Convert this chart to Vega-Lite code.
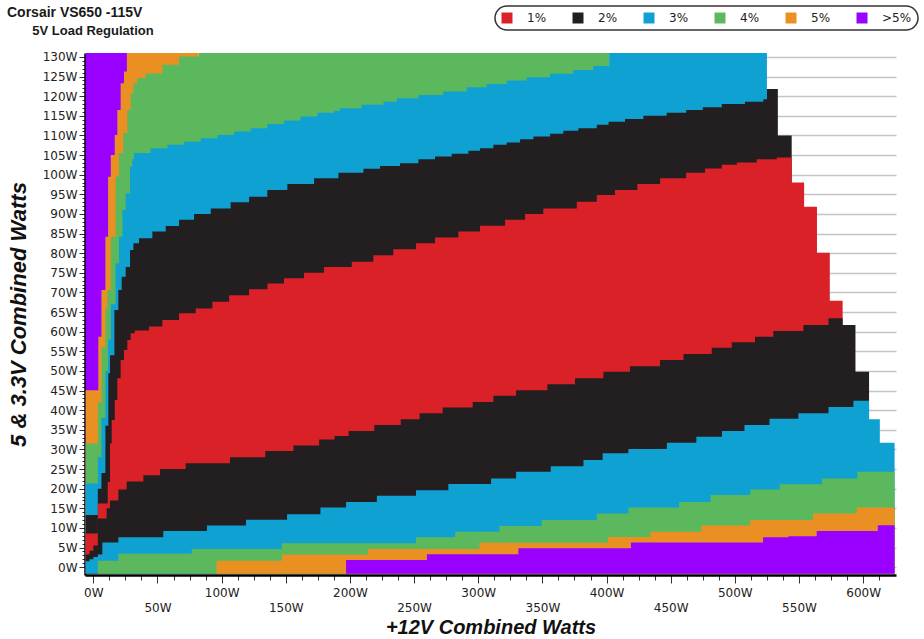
{
  "$schema": "https://vega.github.io/schema/vega-lite/v6.json",
  "autosize": "none",
  "width": 811,
  "height": 522,
  "padding": {"left": 85, "top": 53, "right": 28, "bottom": 64},
  "background": "white",
  "config": {
    "view": {"stroke": null},
    "axis": {
      "labelFont": "DejaVu Sans",
      "labelFontSize": 12,
      "labelColor": "#222222",
      "titleFont": "Liberation Sans",
      "titleFontWeight": "bold",
      "titleFontStyle": "italic",
      "titleColor": "#111111",
      "domainColor": "#000000",
      "domainWidth": 2.5,
      "tickColor": "#333333",
      "labelOverlap": false,
      "labelFlush": false
    },
    "legend": {"strokeWidth": 1.5}
  },
  "title": {
    "text": "Corsair VS650 -115V",
    "subtitle": "\u200b\u00a0\u00a0\u00a0\u00a0\u00a0\u00a0\u00a05V Load Regulation",
    "anchor": "start",
    "frame": "group",
    "dx": -78,
    "offset": -33,
    "font": "Liberation Sans",
    "fontSize": 14,
    "fontWeight": "bold",
    "color": "#1a1a1a",
    "subtitleFont": "Liberation Sans",
    "subtitleFontSize": 13,
    "subtitleFontWeight": "bold",
    "subtitleColor": "#1a1a1a",
    "subtitlePadding": 5
  },
  "data": {
    "values": [
      {"b": "p11", "w": -6, "v": 131}, {"b": "p11", "w": 26.2, "v": 131},

      {"b": "p10", "w": -6, "v": 45.1}, {"b": "p10", "w": 3.9, "v": 58.7}, {"b": "p10", "w": 6.3, "v": 70.6},
      {"b": "p10", "w": 9.4, "v": 84.2}, {"b": "p10", "w": 11.5, "v": 99.5}, {"b": "p10", "w": 13.6, "v": 105},
      {"b": "p10", "w": 16.7, "v": 110.1}, {"b": "p10", "w": 18.7, "v": 116.5}, {"b": "p10", "w": 21.3, "v": 123.3},
      {"b": "p10", "w": 23.9, "v": 126.3}, {"b": "p10", "w": 26.2, "v": 131}, {"b": "p10", "w": 82, "v": 131},

      {"b": "p9", "w": -6, "v": 31.5}, {"b": "p9", "w": 3.5, "v": 42}, {"b": "p9", "w": 6.3, "v": 56},
      {"b": "p9", "w": 9.4, "v": 66}, {"b": "p9", "w": 10.9, "v": 70.6}, {"b": "p9", "w": 13.6, "v": 84.2},
      {"b": "p9", "w": 17.4, "v": 99.5}, {"b": "p9", "w": 20, "v": 105.5}, {"b": "p9", "w": 23.4, "v": 110.6},
      {"b": "p9", "w": 26.5, "v": 116.5}, {"b": "p9", "w": 29.1, "v": 120.7}, {"b": "p9", "w": 31.2, "v": 123.3},
      {"b": "p9", "w": 34.3, "v": 124.6}, {"b": "p9", "w": 40.8, "v": 125.8}, {"b": "p9", "w": 53.8, "v": 128},
      {"b": "p9", "w": 66.8, "v": 130.1}, {"b": "p9", "w": 82, "v": 131}, {"b": "p9", "w": 402, "v": 131},

      {"b": "p8", "w": -6, "v": 21.3}, {"b": "p8", "w": 3.5, "v": 28}, {"b": "p8", "w": 6.3, "v": 38},
      {"b": "p8", "w": 9.4, "v": 50}, {"b": "p8", "w": 11.5, "v": 58}, {"b": "p8", "w": 13.6, "v": 67},
      {"b": "p8", "w": 17.4, "v": 77.4}, {"b": "p8", "w": 20, "v": 84.2}, {"b": "p8", "w": 22.7, "v": 91},
      {"b": "p8", "w": 25.2, "v": 95.2}, {"b": "p8", "w": 28.6, "v": 102}, {"b": "p8", "w": 30.4, "v": 104},
      {"b": "p8", "w": 31.7, "v": 105.5}, {"b": "p8", "w": 44.7, "v": 106.7}, {"b": "p8", "w": 57.7, "v": 107.6},
      {"b": "p8", "w": 70.7, "v": 108.4}, {"b": "p8", "w": 83.7, "v": 109.3}, {"b": "p8", "w": 96.7, "v": 110.1},
      {"b": "p8", "w": 109.7, "v": 111}, {"b": "p8", "w": 122.7, "v": 111.8}, {"b": "p8", "w": 135.6, "v": 112.9},
      {"b": "p8", "w": 148.6, "v": 113.8}, {"b": "p8", "w": 161.6, "v": 114.8}, {"b": "p8", "w": 174.6, "v": 115.8},
      {"b": "p8", "w": 187.6, "v": 116.3}, {"b": "p8", "w": 192.3, "v": 116.9}, {"b": "p8", "w": 209.2, "v": 117.8},
      {"b": "p8", "w": 226.2, "v": 118.6}, {"b": "p8", "w": 236.5, "v": 119.5}, {"b": "p8", "w": 253.3, "v": 120.3},
      {"b": "p8", "w": 272.8, "v": 121.2}, {"b": "p8", "w": 291, "v": 122.3}, {"b": "p8", "w": 306.6, "v": 123.1},
      {"b": "p8", "w": 322.2, "v": 124}, {"b": "p8", "w": 337.8, "v": 124.8}, {"b": "p8", "w": 356, "v": 125.7},
      {"b": "p8", "w": 374.1, "v": 126.7}, {"b": "p8", "w": 389.7, "v": 127.7}, {"b": "p8", "w": 402, "v": 131},
      {"b": "p8", "w": 525, "v": 131},

      {"b": "p7", "w": -6, "v": 13.3}, {"b": "p7", "w": 3.5, "v": 20}, {"b": "p7", "w": 6.3, "v": 24},
      {"b": "p7", "w": 9.4, "v": 36}, {"b": "p7", "w": 11.7, "v": 49.4}, {"b": "p7", "w": 13, "v": 54},
      {"b": "p7", "w": 16.4, "v": 65.5}, {"b": "p7", "w": 19.5, "v": 70.6}, {"b": "p7", "w": 22.1, "v": 74},
      {"b": "p7", "w": 25.2, "v": 76.5}, {"b": "p7", "w": 28.6, "v": 80.8}, {"b": "p7", "w": 31.2, "v": 82.5},
      {"b": "p7", "w": 35.6, "v": 83.8}, {"b": "p7", "w": 46, "v": 85.5}, {"b": "p7", "w": 56.4, "v": 86.9},
      {"b": "p7", "w": 66.8, "v": 88.5}, {"b": "p7", "w": 78.5, "v": 90}, {"b": "p7", "w": 91.5, "v": 91.4},
      {"b": "p7", "w": 107, "v": 93}, {"b": "p7", "w": 121.4, "v": 94.4}, {"b": "p7", "w": 135.6, "v": 96.1},
      {"b": "p7", "w": 151.2, "v": 97.6}, {"b": "p7", "w": 172, "v": 99.1}, {"b": "p7", "w": 191, "v": 100.5},
      {"b": "p7", "w": 210.5, "v": 101.5}, {"b": "p7", "w": 223.5, "v": 102.2}, {"b": "p7", "w": 239, "v": 102.9},
      {"b": "p7", "w": 253.3, "v": 103.9}, {"b": "p7", "w": 266.3, "v": 104.6}, {"b": "p7", "w": 279.3, "v": 105.3},
      {"b": "p7", "w": 292.3, "v": 106.1}, {"b": "p7", "w": 301.4, "v": 106.7}, {"b": "p7", "w": 311.8, "v": 107.6},
      {"b": "p7", "w": 322.2, "v": 108.2}, {"b": "p7", "w": 332.6, "v": 109}, {"b": "p7", "w": 343, "v": 109.7},
      {"b": "p7", "w": 356, "v": 110.4}, {"b": "p7", "w": 366.3, "v": 111.2}, {"b": "p7", "w": 378, "v": 111.8},
      {"b": "p7", "w": 392.4, "v": 112.7}, {"b": "p7", "w": 401.6, "v": 113.5}, {"b": "p7", "w": 414.4, "v": 114.2},
      {"b": "p7", "w": 428.7, "v": 115}, {"b": "p7", "w": 446.9, "v": 115.8}, {"b": "p7", "w": 462, "v": 116.5},
      {"b": "p7", "w": 475, "v": 117.2}, {"b": "p7", "w": 489.8, "v": 118}, {"b": "p7", "w": 507.9, "v": 118.6},
      {"b": "p7", "w": 522.2, "v": 119.2}, {"b": "p7", "w": 525, "v": 121.8}, {"b": "p7", "w": 533.5, "v": 110},
      {"b": "p7", "w": 544.3, "v": 110},

      {"b": "p6", "w": -6, "v": 8.6}, {"b": "p6", "w": 3.5, "v": 16.2}, {"b": "p6", "w": 11.2, "v": 21.7},
      {"b": "p6", "w": 13, "v": 31.5}, {"b": "p6", "w": 14.3, "v": 37.5}, {"b": "p6", "w": 16.7, "v": 42.6},
      {"b": "p6", "w": 18.7, "v": 48.1}, {"b": "p6", "w": 21.3, "v": 52.8}, {"b": "p6", "w": 23.9, "v": 55.3},
      {"b": "p6", "w": 26.5, "v": 57.9}, {"b": "p6", "w": 29.1, "v": 59.6}, {"b": "p6", "w": 32.3, "v": 60.3},
      {"b": "p6", "w": 43.4, "v": 61.3}, {"b": "p6", "w": 53.8, "v": 63}, {"b": "p6", "w": 66.8, "v": 64.7},
      {"b": "p6", "w": 79.8, "v": 65.9}, {"b": "p6", "w": 92.8, "v": 67.6}, {"b": "p6", "w": 105.8, "v": 69.3},
      {"b": "p6", "w": 121.4, "v": 70.8}, {"b": "p6", "w": 135.7, "v": 72.3}, {"b": "p6", "w": 148.6, "v": 73.6},
      {"b": "p6", "w": 164.2, "v": 75}, {"b": "p6", "w": 179.8, "v": 76.5}, {"b": "p6", "w": 201.4, "v": 77.8},
      {"b": "p6", "w": 218.3, "v": 79.5}, {"b": "p6", "w": 233.8, "v": 81}, {"b": "p6", "w": 251.5, "v": 82.5},
      {"b": "p6", "w": 266.3, "v": 84}, {"b": "p6", "w": 284.5, "v": 85.5}, {"b": "p6", "w": 301.4, "v": 87},
      {"b": "p6", "w": 320.9, "v": 88.5}, {"b": "p6", "w": 336.5, "v": 90}, {"b": "p6", "w": 350.7, "v": 91.4},
      {"b": "p6", "w": 376.8, "v": 93.1}, {"b": "p6", "w": 392.4, "v": 94.8}, {"b": "p6", "w": 406.6, "v": 96.1},
      {"b": "p6", "w": 424, "v": 97.6}, {"b": "p6", "w": 441.7, "v": 99.1}, {"b": "p6", "w": 462, "v": 100.5},
      {"b": "p6", "w": 476.8, "v": 101.6}, {"b": "p6", "w": 489.8, "v": 102.5}, {"b": "p6", "w": 501.5, "v": 103.1},
      {"b": "p6", "w": 517, "v": 103.9}, {"b": "p6", "w": 532.7, "v": 104.4}, {"b": "p6", "w": 544.3, "v": 98},
      {"b": "p6", "w": 554, "v": 91.8}, {"b": "p6", "w": 564, "v": 80.1}, {"b": "p6", "w": 574, "v": 67.9},
      {"b": "p6", "w": 584, "v": 67.9},

      {"b": "p5", "w": -6, "v": 3.2}, {"b": "p5", "w": -3, "v": 4.2}, {"b": "p5", "w": 0, "v": 5.5},
      {"b": "p5", "w": 3.5, "v": 12.4}, {"b": "p5", "w": 10.4, "v": 15}, {"b": "p5", "w": 13, "v": 17},
      {"b": "p5", "w": 19.5, "v": 19.8}, {"b": "p5", "w": 26, "v": 21.8}, {"b": "p5", "w": 39, "v": 23.4},
      {"b": "p5", "w": 52, "v": 25}, {"b": "p5", "w": 72, "v": 26.5}, {"b": "p5", "w": 106.5, "v": 28},
      {"b": "p5", "w": 134, "v": 29.6}, {"b": "p5", "w": 156, "v": 31}, {"b": "p5", "w": 176, "v": 32.5},
      {"b": "p5", "w": 188, "v": 33.4}, {"b": "p5", "w": 199, "v": 34.7}, {"b": "p5", "w": 219, "v": 36.2},
      {"b": "p5", "w": 239.6, "v": 37.7}, {"b": "p5", "w": 254.3, "v": 39.2}, {"b": "p5", "w": 272.3, "v": 40.7},
      {"b": "p5", "w": 295.7, "v": 42.1}, {"b": "p5", "w": 311.8, "v": 43.7}, {"b": "p5", "w": 329.5, "v": 45.1},
      {"b": "p5", "w": 353.9, "v": 46.6}, {"b": "p5", "w": 375.4, "v": 48.1}, {"b": "p5", "w": 397.5, "v": 49.8},
      {"b": "p5", "w": 418.3, "v": 51.2}, {"b": "p5", "w": 441.7, "v": 52.8}, {"b": "p5", "w": 460, "v": 54.3},
      {"b": "p5", "w": 482, "v": 55.9}, {"b": "p5", "w": 497.6, "v": 57.3}, {"b": "p5", "w": 515.7, "v": 58.7},
      {"b": "p5", "w": 530, "v": 60.2}, {"b": "p5", "w": 553.4, "v": 61.7}, {"b": "p5", "w": 573, "v": 63.4},
      {"b": "p5", "w": 584, "v": 61.7}, {"b": "p5", "w": 594, "v": 49.8}, {"b": "p5", "w": 604.6, "v": 49.8},

      {"b": "p4", "w": -6, "v": 1.5}, {"b": "p4", "w": -3, "v": 2}, {"b": "p4", "w": 0, "v": 2.6},
      {"b": "p4", "w": 3.5, "v": 3.2}, {"b": "p4", "w": 7, "v": 6.3}, {"b": "p4", "w": 19.5, "v": 7.6},
      {"b": "p4", "w": 54.5, "v": 9.2}, {"b": "p4", "w": 88.5, "v": 10.6}, {"b": "p4", "w": 119, "v": 12.1},
      {"b": "p4", "w": 151, "v": 13.5}, {"b": "p4", "w": 177, "v": 15.2}, {"b": "p4", "w": 197, "v": 16.6},
      {"b": "p4", "w": 221, "v": 18.2}, {"b": "p4", "w": 251.5, "v": 19.6}, {"b": "p4", "w": 276.7, "v": 21.2},
      {"b": "p4", "w": 310, "v": 22.6}, {"b": "p4", "w": 329.5, "v": 24.3}, {"b": "p4", "w": 356.5, "v": 25.7},
      {"b": "p4", "w": 382, "v": 27.3}, {"b": "p4", "w": 397, "v": 29}, {"b": "p4", "w": 417, "v": 30.1},
      {"b": "p4", "w": 447, "v": 31.7}, {"b": "p4", "w": 470, "v": 33.2}, {"b": "p4", "w": 490, "v": 34.7},
      {"b": "p4", "w": 507.5, "v": 36.2}, {"b": "p4", "w": 527, "v": 37.8}, {"b": "p4", "w": 549.5, "v": 39.2},
      {"b": "p4", "w": 573, "v": 40.8}, {"b": "p4", "w": 592.4, "v": 42.4}, {"b": "p4", "w": 604.6, "v": 37.7},
      {"b": "p4", "w": 613, "v": 31.7}, {"b": "p4", "w": 624.5, "v": 31.7},

      {"b": "p3", "w": 3.4, "v": 1.6}, {"b": "p3", "w": 19.5, "v": 3.4}, {"b": "p3", "w": 76.7, "v": 4.6},
      {"b": "p3", "w": 146.8, "v": 6.1}, {"b": "p3", "w": 251.5, "v": 7.6}, {"b": "p3", "w": 282, "v": 9},
      {"b": "p3", "w": 316.5, "v": 10.5}, {"b": "p3", "w": 349.5, "v": 12}, {"b": "p3", "w": 392.4, "v": 13.7},
      {"b": "p3", "w": 417, "v": 15.2}, {"b": "p3", "w": 456.6, "v": 16.6}, {"b": "p3", "w": 481, "v": 18.4},
      {"b": "p3", "w": 512, "v": 19.8}, {"b": "p3", "w": 535, "v": 21.1}, {"b": "p3", "w": 568, "v": 22.6},
      {"b": "p3", "w": 595.5, "v": 24.3}, {"b": "p3", "w": 624.5, "v": 24.3},

      {"b": "p2", "w": 96, "v": 1.6}, {"b": "p2", "w": 147, "v": 3.2}, {"b": "p2", "w": 214, "v": 4.6},
      {"b": "p2", "w": 301, "v": 6.2}, {"b": "p2", "w": 401, "v": 7.7}, {"b": "p2", "w": 434, "v": 9},
      {"b": "p2", "w": 474, "v": 10.6}, {"b": "p2", "w": 512, "v": 12}, {"b": "p2", "w": 561, "v": 13.7},
      {"b": "p2", "w": 595, "v": 15.2}, {"b": "p2", "w": 624.5, "v": 15.2},

      {"b": "p1", "w": 197, "v": 1.8}, {"b": "p1", "w": 260, "v": 3.3}, {"b": "p1", "w": 331.3, "v": 4.8},
      {"b": "p1", "w": 419, "v": 6.3}, {"b": "p1", "w": 522, "v": 7.6}, {"b": "p1", "w": 541.7, "v": 7.9},
      {"b": "p1", "w": 563.8, "v": 9.2}, {"b": "p1", "w": 611.4, "v": 10.7}, {"b": "p1", "w": 624.5, "v": 10.7}
    ]
  },
  "encoding": {
    "x": {
      "field": "w",
      "type": "quantitative",
      "scale": {"domain": [-6.5, 625.6], "nice": false, "zero": false},
      "axis": {
        "title": "+12V Combined Watts",
        "titleFontSize": 20,
        "grid": false,
        "values": [0, 12.5, 25, 37.5, 50, 62.5, 75, 87.5, 100, 112.5, 125, 137.5, 150, 162.5, 175, 187.5, 200, 212.5, 225, 237.5, 250, 262.5, 275, 287.5, 300, 312.5, 325, 337.5, 350, 362.5, 375, 387.5, 400, 412.5, 425, 437.5, 450, 462.5, 475, 487.5, 500, 512.5, 525, 537.5, 550, 562.5, 575, 587.5, 600, 612.5],
        "labelExpr": "datum.value % 100 === 0 ? datum.value + 'W' : (datum.value % 50 === 0 ? ['', datum.value + 'W'] : '')",
        "labelBaseline": "top",
        "labelLineHeight": 15,
        "labelPadding": 4,
        "tickSize": {"condition": {"test": "datum.value % 50 === 0", "value": 8}, "value": 5},
        "titlePadding": 4
      }
    },
    "y": {
      "field": "v",
      "type": "quantitative",
      "scale": {"domain": [-2, 131], "nice": false, "zero": false},
      "axis": {
        "title": "5 & 3.3V Combined Watts",
        "titleFontSize": 22,
        "values": [0, 1, 2, 3, 4, 5, 6, 7, 8, 9, 10, 11, 12, 13, 14, 15, 16, 17, 18, 19, 20, 21, 22, 23, 24, 25, 26, 27, 28, 29, 30, 31, 32, 33, 34, 35, 36, 37, 38, 39, 40, 41, 42, 43, 44, 45, 46, 47, 48, 49, 50, 51, 52, 53, 54, 55, 56, 57, 58, 59, 60, 61, 62, 63, 64, 65, 66, 67, 68, 69, 70, 71, 72, 73, 74, 75, 76, 77, 78, 79, 80, 81, 82, 83, 84, 85, 86, 87, 88, 89, 90, 91, 92, 93, 94, 95, 96, 97, 98, 99, 100, 101, 102, 103, 104, 105, 106, 107, 108, 109, 110, 111, 112, 113, 114, 115, 116, 117, 118, 119, 120, 121, 122, 123, 124, 125, 126, 127, 128, 129, 130],
        "labelExpr": "datum.value % 5 === 0 ? datum.value + 'W' : ''",
        "tickSize": {"condition": {"test": "datum.value % 5 === 0", "value": 6}, "value": 3},
        "grid": true,
        "gridColor": "#c4c4c4",
        "gridWidth": 1.5,
        "gridOpacity": {"condition": {"test": "datum.value % 5 === 0", "value": 1}, "value": 0},
        "labelPadding": 2,
        "titlePadding": 12
      }
    },
    "y2": {"datum": -1.7}
  },
  "layer": [
    {
      "transform": [{"filter": "datum.b === 'p11'"}],
      "mark": {"type": "area", "interpolate": "step-after", "clip": true},
      "encoding": {
        "color": {
          "datum": ">5%",
          "type": "nominal",
          "scale": {
            "domain": ["1%", "2%", "3%", "4%", "5%", ">5%"],
            "range": ["#da2128", "#231f20", "#10a1d3", "#5cb85c", "#ea9022", "#9900ff"]
          },
          "legend": {
            "title": null,
            "orient": "none",
            "legendX": 410,
            "legendY": -47,
            "direction": "horizontal",
            "columns": 6,
            "symbolType": "square",
            "symbolSize": 121,
            "symbolStrokeWidth": 0,
            "symbolOpacity": 1,
            "labelFont": "DejaVu Sans",
            "labelFontSize": 12,
            "labelColor": "#222222",
            "labelOffset": 14,
            "columnPadding": 25,
            "padding": 6,
            "strokeColor": "#333333",
            "fillColor": "#ffffff",
            "cornerRadius": 12
          }
        }
      }
    },
    {
      "transform": [{"filter": "datum.b === 'p10'"}],
      "mark": {"type": "area", "interpolate": "step-after", "clip": true},
      "encoding": {"color": {"datum": "5%", "type": "nominal"}}
    },
    {
      "transform": [{"filter": "datum.b === 'p9'"}],
      "mark": {"type": "area", "interpolate": "step-after", "clip": true},
      "encoding": {"color": {"datum": "4%", "type": "nominal"}}
    },
    {
      "transform": [{"filter": "datum.b === 'p8'"}],
      "mark": {"type": "area", "interpolate": "step-after", "clip": true},
      "encoding": {"color": {"datum": "3%", "type": "nominal"}}
    },
    {
      "transform": [{"filter": "datum.b === 'p7'"}],
      "mark": {"type": "area", "interpolate": "step-after", "clip": true},
      "encoding": {"color": {"datum": "2%", "type": "nominal"}}
    },
    {
      "transform": [{"filter": "datum.b === 'p6'"}],
      "mark": {"type": "area", "interpolate": "step-after", "clip": true},
      "encoding": {"color": {"datum": "1%", "type": "nominal"}}
    },
    {
      "transform": [{"filter": "datum.b === 'p5'"}],
      "mark": {"type": "area", "interpolate": "step-after", "clip": true},
      "encoding": {"color": {"datum": "2%", "type": "nominal"}}
    },
    {
      "transform": [{"filter": "datum.b === 'p4'"}],
      "mark": {"type": "area", "interpolate": "step-after", "clip": true},
      "encoding": {"color": {"datum": "3%", "type": "nominal"}}
    },
    {
      "transform": [{"filter": "datum.b === 'p3'"}],
      "mark": {"type": "area", "interpolate": "step-after", "clip": true},
      "encoding": {"color": {"datum": "4%", "type": "nominal"}}
    },
    {
      "transform": [{"filter": "datum.b === 'p2'"}],
      "mark": {"type": "area", "interpolate": "step-after", "clip": true},
      "encoding": {"color": {"datum": "5%", "type": "nominal"}}
    },
    {
      "transform": [{"filter": "datum.b === 'p1'"}],
      "mark": {"type": "area", "interpolate": "step-after", "clip": true},
      "encoding": {"color": {"datum": ">5%", "type": "nominal"}}
    }
  ]
}
